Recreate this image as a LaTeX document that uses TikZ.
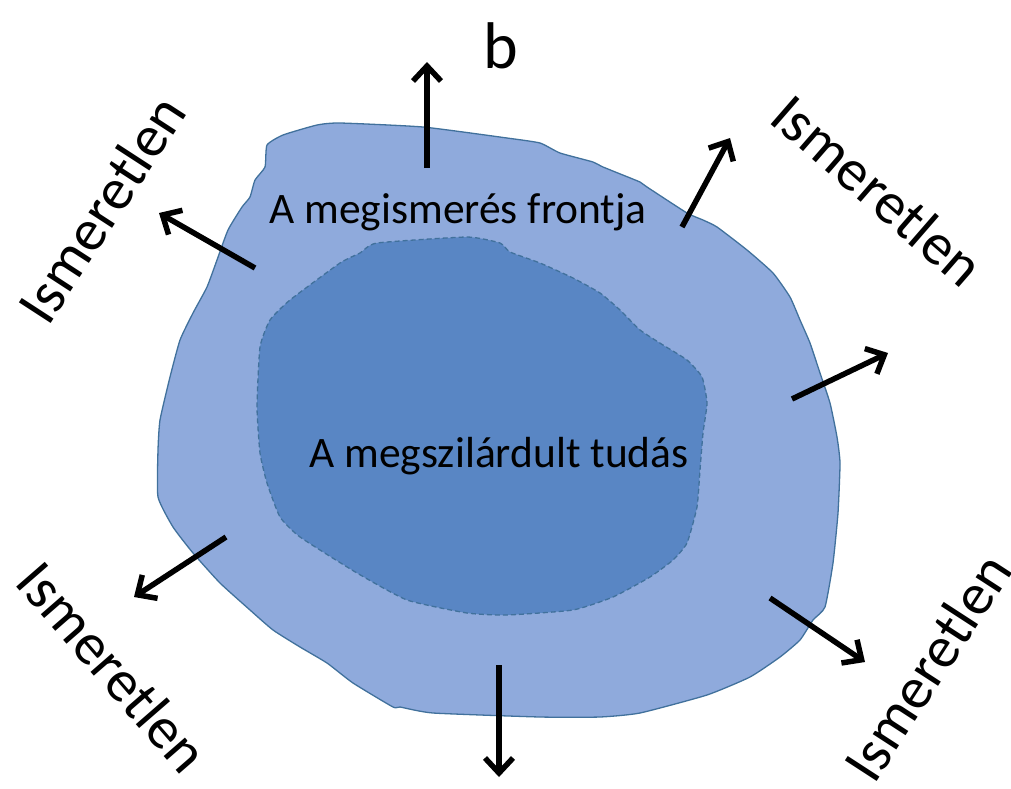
\documentclass[tikz,border=0pt]{standalone}
\usepackage{fontspec}
\setmainfont{Carlito}
\usetikzlibrary{arrows.meta}
\definecolor{outerfill}{HTML}{8FAADC}
\definecolor{innerfill}{HTML}{5986C4}
\definecolor{edgeblue}{HTML}{41719C}
\begin{document}
\begin{tikzpicture}[x=1pt,y=-1pt,
  outerblob/.style={fill=outerfill, draw=edgeblue, line width=1.3pt},
  innerblob/.style={fill=innerfill, draw=edgeblue, line width=1.3pt, dash pattern=on 5pt off 3pt},
  outarrow/.style={line width=5.5pt, -{Straight Barb[length=15pt,width=28pt]}},
  unknown/.style={font=\fontsize{59}{70}\selectfont, inner sep=0pt},
  blobtext/.style={font=\fontsize{43.5}{52}\selectfont, inner sep=0pt, anchor=base}]
\useasboundingbox (0,0) rectangle (1011,788);
% outer blob
\draw[outerblob] plot[smooth cycle, tension=0.3] coordinates {
 (267,145) (283,135) (317,125) (340,123) (423,127) (507,138) (540,143) (560,153)
 (593,162) (603,167) (640,182) (647,187) (687,213) (703,220) (717,227) (747,250)
 (773,273) (790,297) (800,320) (810,343) (820,373) (830,403) (837,437) (840,463)
 (838,513) (833,563) (825,607) (813,620) (800,640) (780,657) (750,677) (707,695)
 (640,713) (600,717) (540,717) (433,713) (400,707) (393,707) (353,683) (327,663)
 (300,647) (273,630) (250,610) (220,583) (193,553) (173,527) (158,497) (158,450)
 (160,420) (170,377) (180,340) (193,313) (207,287) (217,260) (228,230) (242,207)
 (250,197) (255,180) (265,167)};
% inner blob
\draw[innerblob] plot[smooth cycle, tension=0.3] coordinates {
 (377,243) (467,237) (500,243) (510,252) (540,263) (573,278) (600,293) (620,310)
 (640,330) (663,345) (687,360) (702,377) (707,403) (703,433) (700,470) (697,507)
 (687,543) (673,560) (650,577) (613,597) (573,610) (507,615) (467,613) (407,600)
 (357,573) (300,537) (280,517) (267,483) (260,453) (257,407) (260,347) (270,320)
 (290,300) (340,263) (360,253)};
% texts
\node[blobtext] (front) at (458,223) {A megismerés frontja};
\node[blobtext] (core) at (499,467) {A megszilárdult tudás};
\node[font=\fontsize{66}{76}\selectfont, inner sep=0pt, anchor=base] (b) at (501,68) {b};
\node[unknown, rotate=57] (utl) at (101,209) {Ismeretlen};
\node[unknown, rotate=-41] (utr) at (878,190) {Ismeretlen};
\node[unknown, rotate=-49] (ubl) at (113,667) {Ismeretlen};
\node[unknown, rotate=57] (ubr) at (927,667) {Ismeretlen};
% arrows
\coordinate (a1s) at (427,168); \coordinate (a1e) at (427,62);
\coordinate (a2s) at (682,227); \coordinate (a2e) at (730,138);
\coordinate (a3s) at (792,399); \coordinate (a3e) at (888,353);
\coordinate (a4s) at (770,598); \coordinate (a4e) at (865,662);
\coordinate (a5s) at (499,665); \coordinate (a5e) at (499,777);
\coordinate (a6s) at (226,537); \coordinate (a6e) at (134,597);
\coordinate (a7s) at (255,268); \coordinate (a7e) at (159,213);
\foreach \i in {1,...,7} \draw[outarrow] (a\i s) -- (a\i e);
\end{tikzpicture}
\end{document}
